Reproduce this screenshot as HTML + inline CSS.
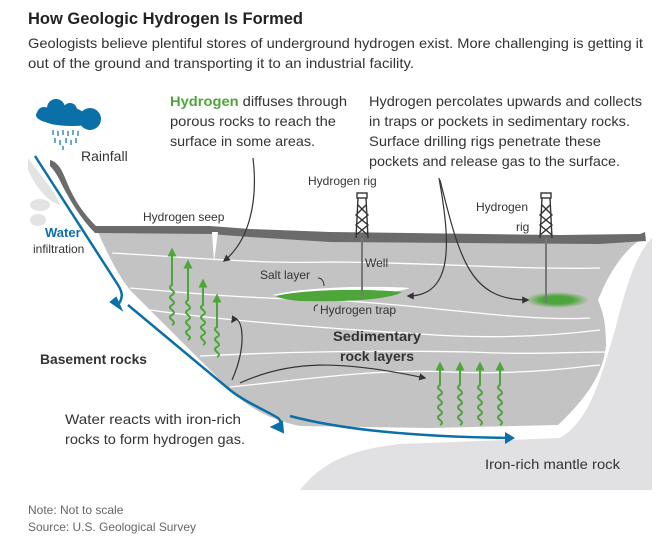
<!DOCTYPE html>
<html><head><meta charset="utf-8"><style>
html,body{margin:0;padding:0;background:#fff;}
svg{display:block;font-family:"Liberation Sans",sans-serif;}
</style></head><body>
<svg width="665" height="539" viewBox="0 0 665 539" xmlns="http://www.w3.org/2000/svg">
<defs>
<marker id="ah" viewBox="0 0 10 10" refX="8" refY="5" markerWidth="6" markerHeight="6" orient="auto"><path d="M0,0 L10,5 L0,10 z" fill="#333"/></marker>
<marker id="gh" viewBox="0 0 10 10" refX="5" refY="5" markerWidth="4.5" markerHeight="4.5" orient="auto"><path d="M0,0 L10,5 L0,10 z" fill="#4ea53a"/></marker>
<radialGradient id="fz"><stop offset="0.5" stop-color="#4ea53a"/><stop offset="1" stop-color="#4ea53a" stop-opacity="0"/></radialGradient>
</defs>
<text x="28" y="24" font-size="17" font-weight="bold" fill="#222" textLength="275" lengthAdjust="spacingAndGlyphs">How Geologic Hydrogen Is Formed</text>
<text x="28" y="48" font-size="14" fill="#333" textLength="615" lengthAdjust="spacingAndGlyphs">Geologists believe plentiful stores of underground hydrogen exist. More challenging is getting it</text>
<text x="28" y="68" font-size="14" fill="#333" textLength="386" lengthAdjust="spacingAndGlyphs">out of the ground and transporting it to an industrial facility.</text>

<!-- mantle -->
<path d="M300,490 C320,465 345,450 400,444 L560,438 C590,420 600,380 615,330 C625,290 635,255 652,238 L652,490 Z" fill="#e1e1e3"/>
<!-- white haze left -->
<path d="M28,158 C40,175 55,190 60,205 C45,200 35,185 28,170Z" fill="#e3e3e3"/>
<ellipse cx="40" cy="205" rx="10" ry="6" fill="#e3e3e3"/>
<ellipse cx="38" cy="220" rx="8" ry="6" fill="#e3e3e3"/>
<!-- sediment -->
<path d="M98,232 L210,230 L250,233 L330,238 L640,240 C625,250 610,270 598,300 C602,310 606,320 606,345 C604,370 590,395 558,425 L430,428 L300,426 C270,420 250,408 232,392 C200,360 160,320 130,290 C118,275 108,255 98,232Z" fill="#c3c3c3"/>
<!-- surface dark band -->
<path d="M50,160 C58,162 62,170 66,180 C72,195 80,210 96,226 L210,226 L250,229 L330,232 L560,235 L640,234 L645,232 L646,241 L600,244 L330,242 L250,237 L210,234 L95,233 C80,218 70,200 62,185 C58,176 54,170 50,166Z" fill="#6b6b6b"/>
<!-- seep crack -->
<path d="M212,232 L218,232 L214,262 Z" fill="#fff"/>
<!-- layer lines -->
<g fill="none" stroke="#fff" stroke-width="1.3">
<path d="M112,253 C200,258 260,264 330,262 C420,262 520,270 600,268"/>
<path d="M130,288 C180,292 230,298 330,300 C430,305 520,322 590,318"/>
<path d="M150,310 C220,320 320,328 420,334 C500,340 560,335 600,330"/>
<path d="M200,356 C280,352 380,350 470,352 C530,355 570,352 605,352"/>
<path d="M230,387 C300,380 380,368 450,372 C520,375 570,368 600,365"/>
</g>
<!-- salt layer + trap -->
<path d="M272,295 C300,288 360,285 410,288 C400,292 350,298 300,298Z" fill="#fff"/>
<path d="M276,296 C300,290 360,288 402,292 C390,300 340,302 300,301 C288,300 278,298 276,296Z" fill="#4ea53a"/>
<ellipse cx="557" cy="300" rx="32" ry="8" fill="url(#fz)"/>
<!-- wells -->
<line x1="362" y1="238" x2="362" y2="296" stroke="#777" stroke-width="2"/>
<line x1="546" y1="238" x2="546" y2="303" stroke="#777" stroke-width="2"/>
<!-- rigs -->
<g fill="none" stroke="#333" stroke-width="1.4">
<g transform="translate(362,0)"><rect x="-5" y="193" width="10" height="5"/><path d="M-4,198 L-6,238 M4,198 L6,238 M-4,205 L6,215 L-6,225 L6,235 M4,205 L-6,215 L6,225 L-6,235"/></g>
<g transform="translate(546,0)"><rect x="-5" y="193" width="10" height="5"/><path d="M-4,198 L-6,238 M4,198 L6,238 M-4,205 L6,215 L-6,225 L6,235 M4,205 L-6,215 L6,225 L-6,235"/></g>
</g>
<!-- green wavy arrows -->
<g fill="none" stroke="#4ea53a" stroke-width="2" marker-end="url(#gh)">
<path d="M172,325 c7,-4 -7,-6 0,-10 c7,-4 -7,-6 0,-10 c7,-4 -7,-6 0,-10 c7,-4 -7,-6 0,-10 L172,252"/>
<path d="M188,340 c7,-4 -7,-6 0,-10 c7,-4 -7,-6 0,-10 c7,-4 -7,-6 0,-10 c7,-4 -7,-6 0,-10 L188,264"/>
<path d="M203,345 c7,-4 -7,-6 0,-10 c7,-4 -7,-6 0,-10 c7,-4 -7,-6 0,-10 c7,-4 -7,-6 0,-10 L203,283"/>
<path d="M217,357 c7,-4 -7,-6 0,-10 c7,-4 -7,-6 0,-10 c7,-4 -7,-6 0,-10 L217,298"/>
<path d="M440,425 c7,-4 -7,-6 0,-10 c7,-4 -7,-6 0,-10 c7,-4 -7,-6 0,-10 c7,-4 -7,-6 0,-10 L440,366"/>
<path d="M460,425 c7,-4 -7,-6 0,-10 c7,-4 -7,-6 0,-10 c7,-4 -7,-6 0,-10 c7,-4 -7,-6 0,-10 L460,366"/>
<path d="M480,425 c7,-4 -7,-6 0,-10 c7,-4 -7,-6 0,-10 c7,-4 -7,-6 0,-10 c7,-4 -7,-6 0,-10 L480,366"/>
<path d="M500,425 c7,-4 -7,-6 0,-10 c7,-4 -7,-6 0,-10 c7,-4 -7,-6 0,-10 c7,-4 -7,-6 0,-10 L500,366"/>
</g>
<!-- water arrows -->
<g fill="none" stroke="#0b6fa8" stroke-width="2.5">
<path d="M35,156 L118,285 C123,293 123,298 118,305"/>
<path d="M128,305 L230,390 C245,402 265,410 278,418 C282,422 282,426 278,430"/>
<path d="M290,416 C350,432 430,437 510,438"/>
</g>
<path d="M111,302 L121,309 L116,298Z" fill="#0b6fa8" stroke="#0b6fa8" stroke-width="2"/>
<path d="M272,427 L283,432 L282,422Z" fill="#0b6fa8" stroke="#0b6fa8" stroke-width="2"/>
<path d="M505,432 L515,438 L505,444Z" fill="#0b6fa8"/>
<!-- cloud -->
<g fill="#0b6fa8">
<ellipse cx="60" cy="115" rx="24" ry="9"/><circle cx="56" cy="108" r="9"/><circle cx="44" cy="114" r="7"/><circle cx="70" cy="110" r="7"/><circle cx="90" cy="119" r="11"/><ellipse cx="72" cy="120" rx="28" ry="6"/>
</g>
<g stroke="#0b6fa8" stroke-width="1.2">
<path d="M53,130v5M58,131v5M63,130v5M68,131v5M73,130v5M78,131v5M55,138v5M60,140v5M66,138v5M71,140v5M76,138v5M63,146v4"/>
</g>
<!-- pointer arrows -->
<g fill="none" stroke="#333" stroke-width="1.2" marker-end="url(#ah)">
<path d="M253,158 C258,200 250,240 224,261"/>
<path d="M439,178 C450,240 455,296 408,296"/>
<path d="M440,180 C460,260 470,300 528,300"/>
<path d="M232,380 C250,340 240,310 232,322"/>
<path d="M240,383 C290,360 340,360 425,378"/>
</g>
<path d="M318,278 C322,278 324,282 324,286" fill="none" stroke="#333" stroke-width="1"/>
<path d="M318,305 C315,305 313,308 315,311" fill="none" stroke="#333" stroke-width="1"/>
<!-- labels -->
<g font-size="14" fill="#333">
<text x="170" y="106" textLength="177" lengthAdjust="spacingAndGlyphs"><tspan font-weight="bold" fill="#4ea53a">Hydrogen</tspan> diffuses through</text>
<text x="170" y="126" textLength="166" lengthAdjust="spacingAndGlyphs">porous rocks to reach the</text>
<text x="170" y="146" textLength="145" lengthAdjust="spacingAndGlyphs">surface in some areas.</text>
<text x="369" y="106" textLength="273" lengthAdjust="spacingAndGlyphs">Hydrogen percolates upwards and collects</text>
<text x="369" y="126" textLength="261" lengthAdjust="spacingAndGlyphs">in traps or pockets in sedimentary rocks.</text>
<text x="369" y="146" textLength="232" lengthAdjust="spacingAndGlyphs">Surface drilling rigs penetrate these</text>
<text x="369" y="166" textLength="251" lengthAdjust="spacingAndGlyphs">pockets and release gas to the surface.</text>
<text x="81" y="161">Rainfall</text>
<text x="65" y="424" textLength="176" lengthAdjust="spacingAndGlyphs">Water reacts with iron-rich</text>
<text x="65" y="444" textLength="180" lengthAdjust="spacingAndGlyphs">rocks to form hydrogen gas.</text>
<text x="485" y="469" textLength="135" lengthAdjust="spacingAndGlyphs">Iron-rich mantle rock</text>
</g>
<g font-size="12" fill="#333">
<text x="143" y="221">Hydrogen seep</text>
<text x="308" y="185">Hydrogen rig</text>
<text x="476" y="211">Hydrogen</text>
<text x="516" y="231">rig</text>
<text x="365" y="267">Well</text>
<text x="260" y="279">Salt layer</text>
<text x="320" y="314">Hydrogen trap</text>
<text x="33" y="253">infiltration</text>
</g>
<text x="45" y="237" font-size="13" font-weight="bold" fill="#0b6fa8">Water</text>
<text x="40" y="364" font-size="14" font-weight="bold" fill="#333" textLength="107" lengthAdjust="spacingAndGlyphs">Basement rocks</text>
<text x="333" y="341" font-size="14" font-weight="bold" fill="#333" textLength="88" lengthAdjust="spacingAndGlyphs">Sedimentary</text>
<text x="340" y="361" font-size="14" font-weight="bold" fill="#333" textLength="74" lengthAdjust="spacingAndGlyphs">rock layers</text>
<text x="28" y="514" font-size="12" fill="#666">Note: Not to scale</text>
<text x="28" y="531" font-size="12" fill="#666" textLength="168" lengthAdjust="spacingAndGlyphs">Source: U.S. Geological Survey</text>
</svg>
</body></html>
